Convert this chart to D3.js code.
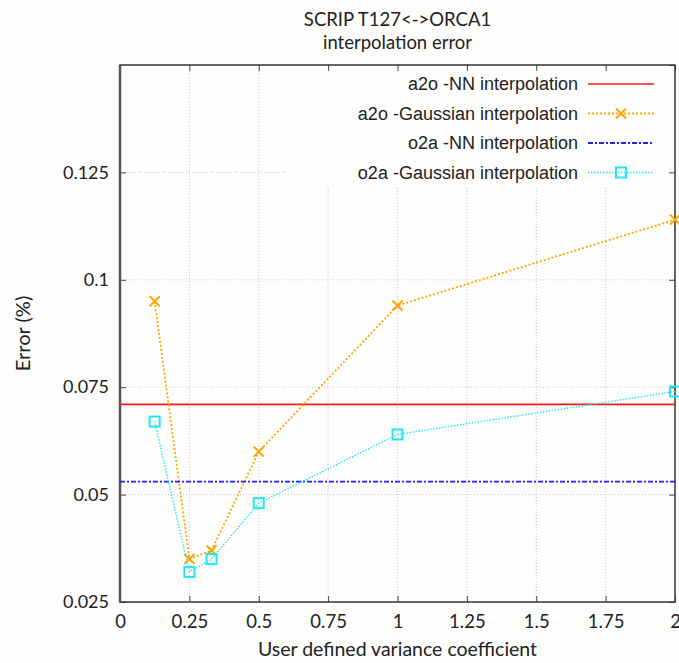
<!DOCTYPE html>
<html lang="en">

<head>
  <meta charset="UTF-8">
  <title>SCRIP T127<->ORCA1 interpolation error</title>
  <style>
    body { margin: 0; background: #fdfdfc; }
    svg { display: block; }
    .lbl { font-family: Lato, "DejaVu Sans", sans-serif; fill: #222; }
    .key { font-family: "Liberation Sans", Arial, sans-serif; fill: #222; }
  </style>
</head>

<body>
  <div id="chart"></div>
  <script src="https://cdn.jsdelivr.net/npm/d3@7"></script>
  <script>
    // data
    const xTicks = [0, 0.25, 0.5, 0.75, 1, 1.25, 1.5, 1.75, 2];
    const yTicks = [0.025, 0.05, 0.075, 0.1, 0.125];
    const coeff = [0.125, 0.25, 0.33, 0.5, 1, 2];
    const a2oGauss = [0.095, 0.035, 0.037, 0.060, 0.094, 0.114];
    const o2aGauss = [0.067, 0.032, 0.035, 0.048, 0.064, 0.074];
    const a2oNN = 0.071;
    const o2aNN = 0.053;
    const keyLabels = ['a2o -NN interpolation', 'a2o -Gaussian interpolation',
      'o2a -NN interpolation', 'o2a -Gaussian interpolation'];

    const width = 679, height = 663;
    const pLeft = 120, pRight = 675, pTop = 65, pBottom = 602;

    const x = d3.scaleLinear().domain([0, 2]).range([pLeft, pRight]);
    const y = d3.scaleLinear().domain([0.025, 0.15]).range([pBottom, pTop]);

    const svg = d3.select('#chart').append('svg')
      .attr('width', width)
      .attr('height', height);

    // grid
    const grid = svg.append('g').attr('stroke', '#c8c8c8').attr('stroke-width', 1)
      .attr('stroke-dasharray', '1,2');
    grid.selectAll('.gx').data(xTicks.slice(1, -1)).join('line')
      .attr('x1', d => x(d)).attr('x2', d => x(d))
      .attr('y1', pTop).attr('y2', pBottom);
    grid.selectAll('.gy').data(yTicks.slice(1)).join('line')
      .attr('x1', pLeft).attr('x2', pRight)
      .attr('y1', d => y(d)).attr('y2', d => y(d));

    // opaque key box hides the grid behind it
    svg.append('rect')
      .attr('x', 287).attr('y', pTop)
      .attr('width', pRight - 287).attr('height', 186 - pTop)
      .attr('fill', '#fdfdfc');

    // axes: ticks pointing in, mirrored on top/right
    const fmt = d => d3.format('')(d);
    svg.append('g')
      .attr('transform', `translate(0,${pBottom})`)
      .call(d3.axisBottom(x).tickValues(xTicks).tickFormat(fmt).tickSizeInner(-6).tickSizeOuter(0).tickPadding(13))
      .call(g => g.select('.domain').remove())
      .call(g => g.selectAll('line').attr('stroke', '#444'))
      .call(g => g.selectAll('text').attr('class', 'lbl').attr('font-size', 18.5).attr('fill', '#222'));
    svg.append('g')
      .attr('transform', `translate(${pLeft},0)`)
      .call(d3.axisLeft(y).tickValues(yTicks).tickFormat(fmt).tickSizeInner(-6).tickSizeOuter(0).tickPadding(11))
      .call(g => g.select('.domain').remove())
      .call(g => g.selectAll('line').attr('stroke', '#444'))
      .call(g => g.selectAll('text').attr('class', 'lbl').attr('font-size', 18).attr('fill', '#222'));
    svg.append('g')
      .attr('transform', `translate(0,${pTop})`)
      .call(d3.axisTop(x).tickValues(xTicks).tickFormat('').tickSizeInner(-6).tickSizeOuter(0))
      .call(g => g.select('.domain').remove())
      .call(g => g.selectAll('line').attr('stroke', '#444'));
    svg.append('g')
      .attr('transform', `translate(${pRight},0)`)
      .call(d3.axisRight(y).tickValues(yTicks.concat([0.15])).tickFormat('').tickSizeInner(-6).tickSizeOuter(0))
      .call(g => g.select('.domain').remove())
      .call(g => g.selectAll('line').attr('stroke', '#444'));

    svg.append('rect')
      .attr('x', pLeft).attr('y', pTop)
      .attr('width', pRight - pLeft).attr('height', pBottom - pTop)
      .attr('fill', 'none').attr('stroke', '#333').attr('stroke-width', 1.5);
    svg.append('line')
      .attr('x1', pLeft).attr('x2', pLeft).attr('y1', pTop).attr('y2', pBottom)
      .attr('stroke', '#555').attr('stroke-width', 2.5);

    // series styles
    const styles = [
      { color: '#ff1a1a', dash: null, width: 1.6, mark: null },
      { color: '#ffa500', dash: '2,2', width: 1.8, mark: 'x' },
      { color: '#2020ff', dash: '5,2,2,2', width: 1.8, mark: null },
      { color: '#22e8ee', dash: '1.5,1.5', width: 1.4, mark: 'sq' }
    ];

    function drawMark(g, cx, cy, st) {
      if (st.mark === 'x') {
        g.append('path')
          .attr('d', `M${cx - 5},${cy - 5}L${cx + 5},${cy + 5}M${cx - 5},${cy + 5}L${cx + 5},${cy - 5}`)
          .attr('stroke', st.color).attr('stroke-width', 2).attr('fill', 'none');
      } else if (st.mark === 'sq') {
        g.append('rect')
          .attr('x', cx - 5).attr('y', cy - 5).attr('width', 10).attr('height', 10)
          .attr('stroke', st.color).attr('stroke-width', 2).attr('fill', 'none');
      }
    }

    const plot = svg.append('g');
    const line = d3.line().x(d => x(d[0])).y(d => y(d[1]));

    function drawHLine(val, st) {
      plot.append('line')
        .attr('x1', x(0)).attr('x2', x(2))
        .attr('y1', y(val)).attr('y2', y(val))
        .attr('stroke', st.color).attr('stroke-width', st.width)
        .attr('stroke-dasharray', st.dash);
    }

    function drawSeries(vals, st) {
      const pts = coeff.map((c, i) => [c, vals[i]]);
      plot.append('path')
        .attr('d', line(pts))
        .attr('fill', 'none')
        .attr('stroke', st.color).attr('stroke-width', st.width)
        .attr('stroke-dasharray', st.dash);
      pts.forEach(p => drawMark(plot, x(p[0]), y(p[1]), st));
    }

    drawHLine(a2oNN, styles[0]);
    drawSeries(a2oGauss, styles[1]);
    drawHLine(o2aNN, styles[2]);
    drawSeries(o2aGauss, styles[3]);

    // key
    const key = svg.append('g');
    keyLabels.forEach((t, i) => {
      const ky = 84 + i * 29.5;
      const st = styles[i];
      key.append('text')
        .attr('class', 'key')
        .attr('x', 578).attr('y', ky)
        .attr('dy', '0.35em')
        .attr('text-anchor', 'end')
        .attr('font-size', 18)
        .text(t);
      key.append('line')
        .attr('x1', 588).attr('x2', 654).attr('y1', ky).attr('y2', ky)
        .attr('stroke', st.color).attr('stroke-width', st.width)
        .attr('stroke-dasharray', st.dash);
      drawMark(key, 621, ky, st);
    });

    // titles
    svg.append('text').attr('class', 'lbl')
      .attr('x', (pLeft + pRight) / 2).attr('y', 26)
      .attr('text-anchor', 'middle').attr('font-size', 18.5)
      .text('SCRIP T127<->ORCA1');
    svg.append('text').attr('class', 'lbl')
      .attr('x', (pLeft + pRight) / 2).attr('y', 49)
      .attr('text-anchor', 'middle').attr('font-size', 18.5)
      .text('interpolation error');
    svg.append('text').attr('class', 'lbl')
      .attr('x', (pLeft + pRight) / 2).attr('y', 656)
      .attr('text-anchor', 'middle').attr('font-size', 19.5)
      .text('User defined variance coefficient');
    svg.append('text').attr('class', 'lbl')
      .attr('transform', `translate(30,${(pTop + pBottom) / 2}) rotate(-90)`)
      .attr('text-anchor', 'middle').attr('font-size', 20)
      .text('Error (%)');
  </script>
</body>

</html>
